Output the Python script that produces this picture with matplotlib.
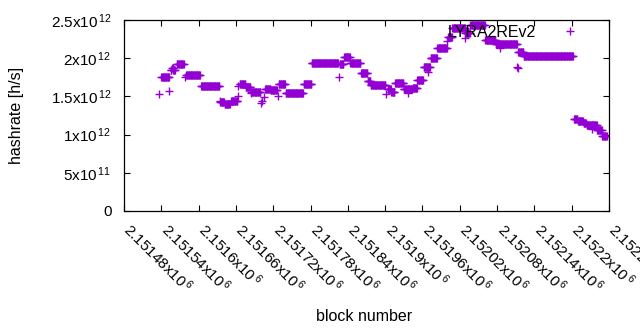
import numpy as np
import matplotlib
matplotlib.use('Agg')
import matplotlib.pyplot as plt
from matplotlib.ticker import FuncFormatter
import matplotlib.transforms as mtransforms

plt.rcParams['font.family'] = ['Liberation Sans', 'DejaVu Sans']
plt.rcParams['mathtext.fontset'] = 'custom'
plt.rcParams['mathtext.rm'] = 'Liberation Sans'

# runs of blocks with the same hashrate (unit: 1e12 h/s)
run_first = [2151536, 2151540, 2151553, 2151555, 2151557, 2151559, 2151565, 2151578,
             2151580, 2151604, 2151634, 2151635, 2151642, 2151652, 2151663, 2151664,
             2151666, 2151676, 2151684, 2151685, 2151701, 2151702, 2151705, 2151707,
             2151716, 2151728, 2151729, 2151740, 2151769, 2151782, 2151825, 2151827,
             2151834, 2151844, 2151861, 2151872, 2151877, 2151902, 2151904, 2151910,
             2151916, 2151930, 2151937, 2151944, 2151952, 2151962, 2151969, 2151973,
             2151984, 2152000, 2152001, 2152008, 2152028, 2152029, 2152037, 2152061,
             2152078, 2152085, 2152112, 2152113, 2152114, 2152123, 2152204,
             2152210, 2152219, 2152224, 2152230, 2152233, 2152241, 2152249]
run_last = [2151536, 2151552, 2151553, 2151556, 2151558, 2151562, 2151576, 2151578,
            2151602, 2151633, 2151634, 2151641, 2151650, 2151662, 2151663, 2151664,
            2151675, 2151683, 2151684, 2151699, 2151701, 2151702, 2151705, 2151715,
            2151726, 2151728, 2151739, 2151768, 2151781, 2151824, 2151825, 2151833,
            2151843, 2151860, 2151871, 2151876, 2151900, 2151902, 2151909, 2151915,
            2151929, 2151943, 2151937, 2151951, 2151961, 2151972, 2151969, 2151983,
            2151999, 2152000, 2152007, 2152028, 2152028, 2152036, 2152060, 2152077,
            2152112, 2152085, 2152112, 2152113, 2152122, 2152202, 2152209,
            2152218, 2152223, 2152229, 2152240, 2152233, 2152248, 2152256]
run_hashrate = [1.535, 1.75, 1.57, 1.85, 1.87, 1.84, 1.92, 1.76,
                1.776, 1.632, 1.44, 1.43, 1.396, 1.44, 1.50, 1.636,
                1.66, 1.62, 1.54, 1.56, 1.42, 1.44, 1.49, 1.60,
                1.58, 1.50, 1.66, 1.55, 1.66, 1.934, 1.76, 1.92,
                2.01, 1.934, 1.80, 1.70, 1.65, 1.53, 1.60, 1.56,
                1.68, 1.60, 1.54, 1.61, 1.71, 1.89, 1.82, 2.00,
                2.13, 2.22, 2.28, 2.40, 2.27, 2.33, 2.43, 2.24,
                2.19, 2.13, 1.89, 1.87, 2.08, 2.03, 1.21,
                1.18, 1.15, 1.12, 1.13, 1.07, 1.06, 0.98]

x_ticks = np.arange(2151480, 2152261, 60)
y_ticks = [0, 0.5e12, 1e12, 1.5e12, 2e12, 2.5e12]

blocks = []
rates = []
for a, b, h in zip(run_first, run_last, run_hashrate):
    n = np.arange(a, b + 1)
    blocks.extend(n)
    rates.extend([h * 1e12] * len(n))

fig = plt.figure(figsize=(6.4, 3.3), dpi=100)
ax = fig.add_axes([124 / 640, 1 - 211 / 330, 485 / 640, 191 / 330])

ax.plot(blocks, rates, linestyle='none', marker='+', markersize=5.6,
        markeredgewidth=1.0, color='#9400d3', label='LYRA2REv2')

ax.set_xlim(2151480, 2152260)
ax.set_ylim(0, 2.5e12)
ax.set_xticks(x_ticks)
ax.set_yticks(y_ticks)


def sci_label(v):
    if v == 0:
        return '0'
    e = int(np.floor(np.log10(abs(v)) + 1e-9))
    m = v / 10 ** e
    return r'$\mathregular{%sx10^{\,%d}}$' % ('{:g}'.format(round(m, 6)), e)


ax.xaxis.set_major_formatter(FuncFormatter(lambda v, p: sci_label(v)))
ax.yaxis.set_major_formatter(FuncFormatter(lambda v, p: sci_label(v)))

ax.tick_params(direction='in', length=4, width=0.8, top=True, right=True,
               labelsize=11, colors='black')
ax.tick_params(axis='y', pad=9)
ax.tick_params(axis='x', pad=11)
for lab in ax.get_xticklabels():
    lab.set_rotation(-45)
    lab.set_ha('left')
    lab.set_va('center')
    lab.set_rotation_mode('anchor')
offset = mtransforms.ScaledTranslation(3 / 100, 0, fig.dpi_scale_trans)
for lab in ax.get_xticklabels():
    lab.set_transform(lab.get_transform() + offset)

for s in ax.spines.values():
    s.set_linewidth(0.9)

ax.set_xlabel('block number', fontsize=11.5)
ax.set_ylabel('hashrate [h/s]', fontsize=11.5)
ax.xaxis.set_label_coords(0.495, -0.515)
ax.yaxis.set_label_coords(-0.206, 0.5)

ax.legend(loc='upper right', bbox_to_anchor=(586 / 640, 1 - 25 / 330),
          bbox_transform=fig.transFigure, frameon=False, markerfirst=False,
          numpoints=1, handlelength=2, handletextpad=1.1, borderpad=0,
          borderaxespad=0, fontsize=11.5)

fig.savefig('out.png', dpi=100)
